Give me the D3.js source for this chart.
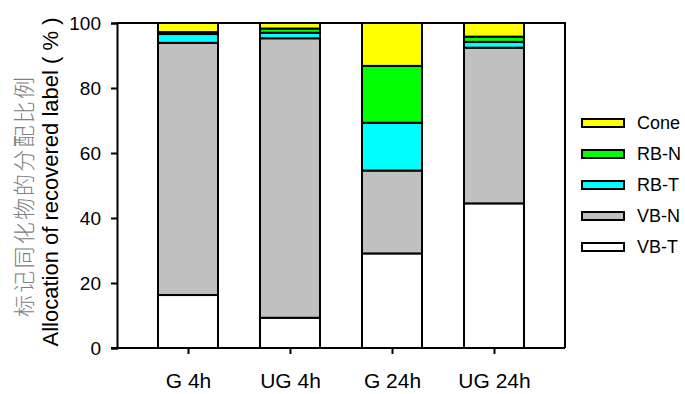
<!DOCTYPE html>
<html>
<head>
<meta charset="utf-8">
<script src="https://cdn.jsdelivr.net/npm/d3@7"></script>
<style>
  html, body { margin: 0; padding: 0; background: #fff; }
  svg { display: block; font-family: "Liberation Sans", Arial, sans-serif; }
</style>
</head>
<body>
<svg id="chart" width="685" height="394"></svg>
<script>
const categories = ["G 4h", "UG 4h", "G 24h", "UG 24h"];
const seriesNames = ["VB-T", "VB-N", "RB-T", "RB-N", "Cone"];
const seriesColors = ["#ffffff", "#c0c0c0", "#00ffff", "#00ff00", "#ffff00"];
const vbT  = [16.3, 9.3, 29.1, 44.5];
const vbN  = [77.6, 86.0, 25.5, 47.9];
const rbT  = [2.7, 1.7, 14.7, 1.8];
const rbN  = [0.6, 1.3, 17.5, 1.6];
const cone = [2.8, 1.7, 13.2, 4.2];
const yTicks = [0, 20, 40, 60, 80, 100];
const legendOrder = ["Cone", "RB-N", "RB-T", "VB-N", "VB-T"];

(function () {
const seriesValues = [vbT, vbN, rbT, rbN, cone];
const rows = categories.map((c, i) => {
  const r = { cat: c };
  seriesNames.forEach((s, k) => r[s] = seriesValues[k][i]);
  return r;
});
const stacked = d3.stack().keys(seriesNames)(rows);
const color = d3.scaleOrdinal().domain(seriesNames).range(seriesColors);

const svg = d3.select("#chart");
const pL = 117, pR = 565, pT = 23, pB = 348;
const x = d3.scalePoint().domain(categories).range([pL, pR]).padding(0.696);
const y = d3.scaleLinear().domain([0, 100]).range([pB, pT]);
const barW = 60;

// frame (top and right)
svg.append("path")
  .attr("d", `M${pL},${pT}H${pR}V${pB}`)
  .attr("fill", "none").attr("stroke", "#000").attr("stroke-width", 2);

// bars
svg.append("g").selectAll("g").data(stacked).join("g")
  .attr("fill", d => color(d.key))
  .selectAll("rect").data(d => d).join("rect")
  .attr("x", d => x(d.data.cat) - barW / 2)
  .attr("width", barW)
  .attr("y", d => y(d[1]))
  .attr("height", d => y(d[0]) - y(d[1]))
  .attr("stroke", "#000").attr("stroke-width", 2);

// y axis
const yAxis = svg.append("g").attr("transform", `translate(${pL},0)`)
  .call(d3.axisLeft(y).tickValues(yTicks).tickSize(6).tickPadding(10));
yAxis.select(".domain").attr("stroke-width", 2);
yAxis.selectAll(".tick line").attr("stroke-width", 2);
yAxis.selectAll("text").attr("font-size", 19).attr("fill", "#000")
  .attr("font-family", "Liberation Sans, Arial, sans-serif");

// x axis
const xAxis = svg.append("g").attr("transform", `translate(0,${pB})`)
  .call(d3.axisBottom(x).tickSize(6).tickPadding(19).tickSizeOuter(0));
xAxis.select(".domain").attr("d", `M${pL - 6},0H${pR}`).attr("stroke-width", 2);
xAxis.selectAll(".tick line").attr("stroke-width", 2);
xAxis.selectAll("text").attr("font-size", 21).attr("fill", "#000")
  .attr("font-family", "Liberation Sans, Arial, sans-serif");

// y titles
svg.append("text")
  .attr("transform", "translate(32,197) rotate(-90)")
  .attr("text-anchor", "middle")
  .attr("font-family", "Noto Sans CJK SC")
  .attr("font-weight", 300)
  .attr("font-size", 22)
  .attr("fill", "#808080")
  .attr("textLength", 240).attr("lengthAdjust", "spacing")
  .text("标记同化物的分配比例");
svg.append("text")
  .attr("transform", "translate(58,182) rotate(-90)")
  .attr("text-anchor", "middle")
  .attr("font-size", 22)
  .attr("fill", "#000")
  .text("Allocation of recovered label ( % )");

// legend
const lg = svg.append("g").selectAll("g").data(legendOrder).join("g")
  .attr("transform", (d, i) => `translate(582,${123 + i * 31})`);
lg.append("rect").attr("x", 0).attr("y", -4).attr("width", 42).attr("height", 8)
  .attr("fill", d => color(d)).attr("stroke", "#000").attr("stroke-width", 2);
lg.append("text").attr("x", 55).attr("y", 0).attr("dy", "0.35em")
  .attr("font-size", 18).attr("fill", "#000").text(d => d);
})();
</script>
</body>
</html>
